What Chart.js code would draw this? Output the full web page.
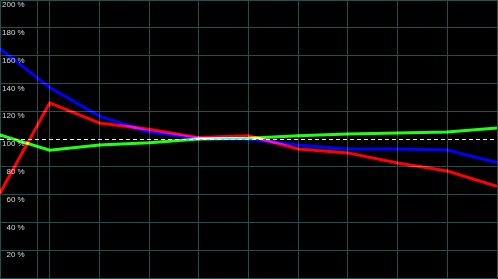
<!DOCTYPE html>
<html>
<head>
<meta charset="UTF-8">
<title>Kurven</title>
<script src="https://cdn.jsdelivr.net/npm/chart.js"></script>
<style>
    body { margin: 0; background: #000; }
    .box { width: 498px; height: 279px; position: relative; }
</style>
</head>
<body>
<div class="box"><canvas id="grafico"></canvas></div>

<script>
// dados
var xValues = [0, 1, 2, 3, 4, 5, 6, 7, 8, 9, 10];
var xGrid = [0, 0.76, 1, 2, 3, 4, 5, 6, 7, 8, 9, 10];
var yTicks = [0, 20, 40, 60, 80, 100, 120, 140, 160, 180, 200];
var refLine = 100;

var azul = [165, 137, 116.5, 105, 100.5, 100, 95.7, 92.8, 92.8, 92, 83];
var vermelho = [61, 126, 111.5, 107, 101, 102.4, 92.8, 90, 82.7, 77, 66];
var verde = [103, 92, 95.7, 97.3, 100, 100.5, 102.4, 103.6, 104.3, 105, 108];

function pontos(arr) {
    return arr.map(function (v, i) { return { x: xValues[i], y: v }; });
}

var grade = '#234f4d';

// linhas somam as cores onde se cruzam
var somaCores = {
    id: 'somaCores',
    beforeDatasetsDraw: function (chart) {
        chart.ctx.save();
        chart.ctx.globalCompositeOperation = 'lighter';
    },
    afterDatasetsDraw: function (chart) {
        chart.ctx.restore();
        // linha tracejada de referencia (100 %)
        var c = chart.ctx, a = chart.chartArea;
        var y = Math.floor(chart.scales.y.getPixelForValue(refLine)) + 0.5;
        c.save();
        c.strokeStyle = '#f0f0f0';
        c.lineWidth = 1;
        c.setLineDash([4, 3]);
        c.beginPath();
        c.moveTo(a.left, y);
        c.lineTo(a.right, y);
        c.stroke();
        c.restore();
    }
};

var ctx = document.getElementById('grafico').getContext('2d');

new Chart(ctx, {
    type: 'line',
    data: {
        datasets: [
            { data: pontos(azul), borderColor: '#0000ff', borderWidth: 3, pointRadius: 0 },
            { data: pontos(vermelho), borderColor: '#ff0000', borderWidth: 3, pointRadius: 0 },
            { data: pontos(verde), borderColor: '#22ff11', borderWidth: 3, pointRadius: 0 }
        ]
    },
    options: {
        responsive: true,
        maintainAspectRatio: false,
        animation: false,
        layout: { padding: { left: 0, top: 0, right: 1, bottom: 1 } },
        plugins: { legend: { display: false }, tooltip: { enabled: false } },
        scales: {
            x: {
                type: 'linear',
                min: 0, max: 10,
                afterBuildTicks: function (scale) {
                    scale.ticks = xGrid.map(function (v) { return { value: v }; });
                },
                afterFit: function (scale) {
                    scale.height = 0;
                    scale.paddingLeft = 0; scale.paddingRight = 0;
                    scale.paddingTop = 0; scale.paddingBottom = 0;
                },
                ticks: { display: false },
                grid: { color: grade, drawTicks: false },
                border: { display: false }
            },
            y: {
                min: 0, max: 200,
                afterBuildTicks: function (scale) {
                    scale.ticks = yTicks.map(function (v) { return { value: v }; });
                },
                afterFit: function (scale) {
                    scale.width = 0;
                    scale.paddingLeft = 0; scale.paddingRight = 0;
                    scale.paddingTop = 0; scale.paddingBottom = 0;
                },
                ticks: {
                    mirror: true,
                    crossAlign: 'far',
                    padding: 2,
                    labelOffset: 5,
                    color: '#dcdcdc',
                    font: { family: 'Liberation Sans Narrow, Liberation Sans', size: 8 },
                    callback: function (v) { return v === 0 ? '' : v + ' %'; }
                },
                grid: {
                    drawTicks: false,
                    color: function (c) { return c.tick && c.tick.value === refLine ? 'rgba(0,0,0,0)' : grade; }
                },
                border: { display: false }
            }
        }
    },
    plugins: [somaCores]
});
</script>
</body>
</html>
